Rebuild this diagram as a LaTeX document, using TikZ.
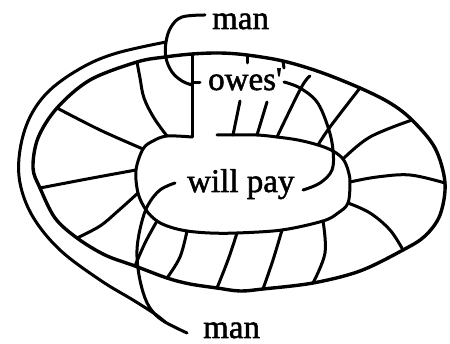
\documentclass[tikz,border=0pt]{standalone}
\usepackage{fontspec}
\setmainfont{Liberation Serif}
\newfontfamily\heavyserif[FakeBold=1.6]{Liberation Serif}
\begin{document}
\begin{tikzpicture}[x=1pt,y=-1pt,
  line cap=round, line join=round,
  ink/.style={draw=black, line width=3pt},
  rim/.style={draw=black, line width=3.4pt},
  lbl/.style={font=\heavyserif\fontsize{33}{36}\selectfont, inner sep=0pt, anchor=base west}]
\useasboundingbox (0,0) rectangle (450,344);

% ---- outer ellipse points
\coordinate (S1) at (137,62);
\coordinate (S2) at (57,108);
\coordinate (S3) at (40,188);
\coordinate (S4) at (77,238);
\coordinate (S5) at (135,266);
\coordinate (S6) at (167,278);
\coordinate (S7) at (217,288);
\coordinate (S8) at (263,289);
\coordinate (S9) at (313,283);
\coordinate (S10) at (403,250);
\coordinate (S11) at (445,183);
\coordinate (S12) at (412,120);
\coordinate (S13) at (360,88);
\coordinate (V) at (192,54);
\coordinate (T1) at (247,55);
\coordinate (T2) at (283,61);

% ---- inner shape points
\coordinate (I1) at (167,136);
\coordinate (I2) at (143,149);
\coordinate (I3) at (136,170);
\coordinate (I4) at (138,193);
\coordinate (I5) at (157,221);
\coordinate (I6) at (187,231);
\coordinate (I7) at (237,233);
\coordinate (I8) at (282,230);
\coordinate (I9) at (323,221);
\coordinate (I10) at (348,203);
\coordinate (I11) at (350,182);
\coordinate (I12) at (343,159);
\coordinate (I13) at (318,145);
\coordinate (I14) at (277,137);
\coordinate (K1) at (233,135);
\coordinate (K2) at (257,135);
\coordinate (G1) at (192,137);
\coordinate (G2) at (217,135);

% ---- labels
\node[lbl] (mantop) at (212,29) {man};
\node[lbl] (owes) at (208,90) {owes'};
\node[lbl] (willpay) at (187,192) {will pay};
\node[lbl] (manbot) at (203,338) {man};

% outer ellipse
\path[rim] plot[smooth cycle, tension=0.55] coordinates {
  (33,168) (38,138) (S2) (90,80) (S1) (165,57) (V) (220,53) (T1) (T2)
  (320,72) (S13) (390,103) (S12) (435,148) (S11) (440,215) (425,236)
  (S10) (360,271) (S9) (S8) (240,291) (S7) (190,284) (S6) (S5) (105,255)
  (S4) (55,218) (S3)};

% inner shape (open at top between G1 and G2)
\path[ink] plot[smooth, tension=0.55] coordinates {
  (G2) (K1) (K2) (I14) (298,140) (I13) (333,151) (I12) (348,170) (I11)
  (I10) (338,213) (I9) (I8) (I7) (210,233) (I6) (170,227) (I5) (146,210)
  (I4) (I3) (I2) (153,141) (I1) (G1)};

% vertical bar and bracket tick
\path[ink] (V) -- (G1);
\coordinate (B1) at (192,83);
\coordinate (B2) at (200,83);
\path[ink] (B1) -- (B2);

% top "man" connector
\coordinate (MT0) at (205,15);
\coordinate (MJ) at (166,42);
\coordinate (MT1) at (192,85);
\path[ink] plot[smooth, tension=0.6] coordinates {
  (MT0) (182,17) (171,27) (MJ) (166,58) (172,72) (182,81) (MT1)};

% outer loop from top connector down to bottom "man"
\coordinate (MB) at (165,322);
\coordinate (MB1) at (187,333);
\path[ink] plot[smooth, tension=0.6] coordinates {
  (MJ) (117,53) (83,67) (50,90) (30,117) (20,150) (20,183) (33,217)
  (60,250) (100,280) (133,300) (155,314) (MB)};

% curve from "will pay" to bottom "man"
\coordinate (WL) at (175,183);
\path[ink] plot[smooth, tension=0.6] coordinates {
  (WL) (160,190) (148,205) (141,225) (137,250) (139,275) (145,298)
  (153,312) (MB) (MB1)};

% arc from "owes" to "will pay"
\coordinate (A0) at (284,82);
\coordinate (A1) at (303,190);
\path[ink] plot[smooth, tension=0.6] coordinates {
  (A0) (300,88) (317,102) (328,127) (333,150) (332,170) (320,183) (A1)};

% spokes
\path[ink] plot[smooth, tension=0.6] coordinates {(S1) (140,78) (144,98) (154,118) (I1)};
\path[ink] plot[smooth, tension=0.6] coordinates {(S2) (100,130) (I2)};
\path[ink] plot[smooth, tension=0.6] coordinates {(S3) (87,179) (I3)};
\path[ink] plot[smooth, tension=0.6] coordinates {(S4) (100,226) (118,211) (I4)};
\path[ink] plot[smooth, tension=0.6] coordinates {(I5) (145,243) (S5)};
\path[ink] plot[smooth, tension=0.6] coordinates {(I6) (180,257) (S6)};
\path[ink] plot[smooth, tension=0.6] coordinates {(I7) (228,260) (S7)};
\path[ink] plot[smooth, tension=0.6] coordinates {(I8) (273,260) (S8)};
\path[ink] plot[smooth, tension=0.6] coordinates {(I9) (325,253) (S9)};
\path[ink] plot[smooth, tension=0.6] coordinates {(I10) (370,213) (390,230) (S10)};
\path[ink] plot[smooth, tension=0.6] coordinates {(I11) (377,177) (410,175) (S11)};
\path[ink] plot[smooth, tension=0.6] coordinates {(I12) (370,137) (S12)};
\path[ink] plot[smooth, tension=0.6] coordinates {(S13) (330,127) (I13)};
\coordinate (P14) at (310,76);
\path[ink] plot[smooth, tension=0.6] coordinates {(P14) (301,88) (I14)};

% short ticks
\coordinate (U1) at (240,101);
\coordinate (U2) at (267,102);
\path[ink] (U1) -- (K1);
\path[ink] (U2) -- (K2);
\coordinate (T1b) at (247,63);
\coordinate (T2b) at (284,68);
\path[ink] (T1) -- (T1b);
\path[ink] (T2) -- (T2b);
\end{tikzpicture}
\end{document}
